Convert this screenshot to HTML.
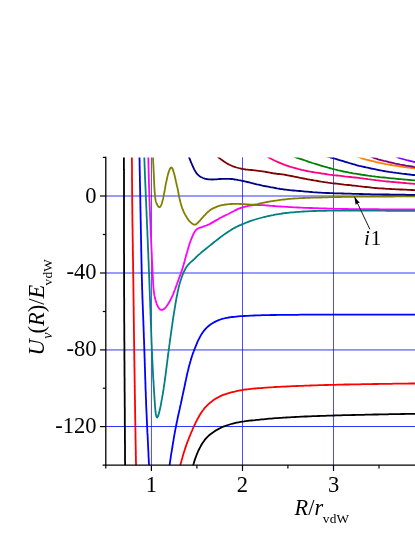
<!DOCTYPE html>
<html><head><meta charset="utf-8">
<style>
html,body{margin:0;padding:0;background:#fff;}
body{width:415px;height:537px;overflow:hidden;}
svg{display:block;will-change:transform;}
text{font-family:"Liberation Serif",serif;fill:#000;}
.c{fill:none;stroke-width:1.8;stroke-linejoin:round;stroke-linecap:butt;}
</style></head><body>
<svg width="415" height="537" viewBox="0 0 415 537">
<rect width="415" height="537" fill="#fff"/>
<defs><clipPath id="cp"><rect x="105.8" y="157.4" width="310" height="307.8"/></clipPath></defs>
<!-- grid -->
<g stroke="#0000ff" stroke-width="0.7" fill="none">
<line x1="151.45" y1="157.4" x2="151.45" y2="465"/>
<line x1="242.5" y1="157.4" x2="242.5" y2="465"/>
<line x1="333.5" y1="157.4" x2="333.5" y2="465"/>
</g>
<g stroke="#0000ff" stroke-width="0.8" fill="none">
<line x1="106" y1="196" x2="415" y2="196"/>
<line x1="106" y1="273" x2="415" y2="273"/>
<line x1="106" y1="349.95" x2="415" y2="349.95"/>
<line x1="106" y1="426.5" x2="415" y2="426.5"/>
</g>
<!-- curves -->
<g clip-path="url(#cp)" id="curves">
<path class="c" stroke="#000" d="M123.8 150.0 L123.8 151.2 L123.9 152.6 L123.9 154.5 L123.9 157.0 L123.9 157.8 L123.9 158.7 L123.9 159.7 L123.9 160.7 L123.9 161.8 L123.9 162.9 L123.9 164.1 L123.9 165.3 L123.9 166.6 L123.9 168.0 L123.9 169.4 L124.0 170.8 L124.0 172.3 L124.0 173.9 L124.0 175.5 L124.0 177.1 L124.0 178.8 L124.0 180.6 L124.0 182.3 L124.0 184.2 L124.0 186.0 L124.0 187.9 L124.0 189.8 L124.0 191.8 L124.0 193.8 L124.0 195.8 L124.0 197.9 L124.0 200.0 L124.0 202.1 L124.0 204.3 L124.0 206.4 L124.0 208.6 L124.0 210.9 L124.0 213.1 L124.0 215.4 L124.0 217.7 L124.0 220.0 L124.0 222.3 L124.0 224.7 L124.0 227.0 L124.0 229.4 L124.0 231.8 L124.0 234.2 L124.0 236.6 L124.0 239.0 L124.0 241.4 L124.0 243.8 L124.0 246.2 L124.0 248.7 L124.0 251.1 L124.0 253.5 L124.1 256.0 L124.1 258.4 L124.1 260.8 L124.1 263.3 L124.1 265.7 L124.1 268.1 L124.1 270.5 L124.1 272.9 L124.1 275.3 L124.1 277.6 L124.1 280.0 L124.1 282.4 L124.1 284.7 L124.1 287.0 L124.1 289.3 L124.1 291.6 L124.1 293.9 L124.1 296.2 L124.2 298.4 L124.2 300.6 L124.2 302.9 L124.2 305.1 L124.2 307.3 L124.2 309.4 L124.2 311.6 L124.2 313.8 L124.2 315.9 L124.2 318.0 L124.2 320.1 L124.2 322.2 L124.3 324.3 L124.3 326.4 L124.3 328.5 L124.3 330.5 L124.3 332.6 L124.3 334.6 L124.3 336.6 L124.3 338.6 L124.3 340.6 L124.4 342.6 L124.4 344.5 L124.4 346.5 L124.4 348.4 L124.4 350.3 L124.4 352.3 L124.4 354.2 L124.4 356.1 L124.4 357.9 L124.4 359.8 L124.5 361.7 L124.5 363.5 L124.5 365.4 L124.5 367.2 L124.5 369.0 L124.5 370.8 L124.5 372.6 L124.5 374.4 L124.5 376.2 L124.6 377.9 L124.6 379.7 L124.6 381.4 L124.6 383.2 L124.6 384.9 L124.6 386.6 L124.6 388.3 L124.6 390.0 L124.6 391.7 L124.7 393.4 L124.7 395.0 L124.7 396.7 L124.7 398.4 L124.7 400.0 L124.7 402.1 L124.7 404.2 L124.7 406.3 L124.8 408.4 L124.8 410.4 L124.8 412.5 L124.8 414.5 L124.8 416.5 L124.8 418.5 L124.8 420.5 L124.8 422.5 L124.8 424.5 L124.9 426.5 L124.9 428.4 L124.9 430.4 L124.9 432.3 L124.9 434.3 L124.9 436.2 L124.9 438.1 L124.9 440.0 L124.9 441.9 L125.0 443.8 L125.0 445.7 L125.0 447.6 L125.0 449.5 L125.0 451.4 L125.0 453.2 L125.0 455.1 L125.0 457.0 L125.0 458.8 L125.0 460.7 L125.1 462.6 L125.1 464.4 L125.1 466.3 L125.1 468.1 L125.1 470.0"/>
<path class="c" stroke="#000" d="M192.2 470.0 L192.5 468.4 L192.9 466.7 L193.3 464.8 L193.8 463.2 L194.3 461.4 L194.9 459.6 L195.5 457.8 L196.2 456.0 L196.9 454.2 L197.6 452.5 L198.4 450.7 L199.2 449.0 L200.1 447.3 L200.9 445.8 L201.8 444.3 L202.7 442.8 L203.7 441.4 L204.7 439.9 L205.8 438.6 L207.0 437.3 L208.2 436.1 L209.5 435.0 L210.8 433.9 L212.2 432.9 L213.6 431.9 L215.1 430.9 L216.7 430.0 L218.3 429.1 L219.9 428.2 L221.5 427.4 L223.2 426.7 L224.8 426.1 L226.4 425.5 L228.0 425.0 L229.6 424.5 L231.2 424.0 L232.8 423.6 L234.7 423.1 L236.6 422.7 L238.6 422.3 L240.5 421.9 L242.5 421.6 L244.1 421.4 L245.8 421.1 L247.5 420.9 L249.3 420.7 L251.1 420.5 L253.0 420.3 L255.0 420.1 L256.6 419.9 L258.2 419.8 L259.9 419.6 L261.6 419.4 L263.4 419.3 L265.3 419.1 L267.2 418.9 L269.1 418.7 L271.2 418.6 L273.3 418.4 L275.4 418.2 L277.6 418.1 L279.9 417.9 L281.5 417.8 L283.1 417.7 L284.8 417.6 L286.4 417.5 L288.1 417.4 L289.9 417.3 L291.6 417.2 L293.4 417.1 L295.2 417.0 L297.1 416.9 L298.9 416.8 L300.8 416.7 L302.7 416.6 L304.7 416.5 L306.6 416.5 L308.6 416.4 L310.6 416.3 L312.6 416.2 L314.7 416.1 L316.7 416.1 L318.8 416.0 L320.9 415.9 L323.1 415.8 L325.2 415.8 L327.4 415.7 L329.6 415.6 L331.8 415.6 L334.0 415.5 L335.8 415.4 L337.6 415.4 L339.4 415.3 L341.2 415.3 L343.1 415.2 L344.9 415.2 L346.8 415.2 L348.7 415.1 L350.5 415.1 L352.4 415.0 L354.3 415.0 L356.2 414.9 L358.1 414.9 L360.0 414.8 L362.0 414.8 L363.9 414.8 L365.8 414.7 L367.8 414.7 L369.7 414.6 L371.7 414.6 L373.7 414.5 L375.6 414.5 L377.6 414.5 L379.6 414.4 L381.6 414.4 L383.6 414.4 L385.6 414.3 L387.6 414.3 L389.6 414.2 L391.6 414.2 L393.6 414.2 L395.6 414.1 L397.7 414.1 L399.7 414.1 L401.7 414.0 L403.7 414.0 L405.8 413.9 L407.8 413.9 L409.8 413.9 L411.9 413.8 L413.9 413.8 L415.9 413.8 L418.0 413.7 L420.0 413.7"/>
<path class="c" stroke="#f00" d="M131.8 150.0 L131.8 151.4 L131.9 153.0 L131.9 154.8 L131.9 157.0 L131.9 158.1 L131.9 159.4 L131.9 160.7 L131.9 162.2 L131.9 163.7 L132.0 165.3 L132.0 167.0 L132.0 168.8 L132.0 170.6 L132.0 172.5 L132.0 174.5 L132.0 176.6 L132.0 178.7 L132.0 180.9 L132.1 183.1 L132.1 185.4 L132.1 187.7 L132.1 190.1 L132.1 192.5 L132.2 195.0 L132.2 197.5 L132.2 200.0 L132.2 201.9 L132.2 203.7 L132.3 205.6 L132.3 207.5 L132.3 209.5 L132.3 211.4 L132.3 213.3 L132.4 215.3 L132.4 217.2 L132.4 219.2 L132.4 221.2 L132.5 223.2 L132.5 225.2 L132.5 227.1 L132.6 229.1 L132.6 231.1 L132.6 233.1 L132.6 235.1 L132.7 237.1 L132.7 239.2 L132.7 241.2 L132.8 243.2 L132.8 245.2 L132.8 247.2 L132.8 249.2 L132.9 251.2 L132.9 253.1 L132.9 255.1 L133.0 257.1 L133.0 259.1 L133.0 261.0 L133.1 263.0 L133.1 264.9 L133.1 266.8 L133.1 268.8 L133.2 270.7 L133.2 272.6 L133.2 274.4 L133.2 276.3 L133.3 278.2 L133.3 280.0 L133.3 281.9 L133.4 283.7 L133.4 285.6 L133.4 287.4 L133.4 289.2 L133.4 291.1 L133.5 292.9 L133.5 294.7 L133.5 296.5 L133.5 298.3 L133.6 300.1 L133.6 301.8 L133.6 303.6 L133.6 305.5 L133.7 307.3 L133.7 309.1 L133.7 310.9 L133.7 312.7 L133.7 314.6 L133.8 316.5 L133.8 318.3 L133.8 320.2 L133.8 322.2 L133.9 324.1 L133.9 326.1 L133.9 328.1 L133.9 330.1 L134.0 332.1 L134.0 334.2 L134.0 336.3 L134.0 338.5 L134.1 340.6 L134.1 342.8 L134.1 345.1 L134.2 347.4 L134.2 349.7 L134.2 352.1 L134.3 354.5 L134.3 357.0 L134.3 359.1 L134.4 361.3 L134.4 363.4 L134.4 365.6 L134.5 367.9 L134.5 370.1 L134.5 372.4 L134.6 374.7 L134.6 377.0 L134.6 379.3 L134.7 381.7 L134.7 384.0 L134.7 386.4 L134.8 388.7 L134.8 391.1 L134.8 393.5 L134.9 395.9 L134.9 398.2 L135.0 400.6 L135.0 403.0 L135.0 405.3 L135.1 407.6 L135.1 410.0 L135.1 412.3 L135.2 414.6 L135.2 416.9 L135.2 419.1 L135.3 421.4 L135.3 423.6 L135.3 425.7 L135.4 427.9 L135.4 430.0 L135.5 432.1 L135.5 434.1 L135.5 436.2 L135.5 438.1 L135.6 440.1 L135.6 441.9 L135.6 443.8 L135.7 445.6 L135.7 447.3 L135.7 449.0 L135.8 450.6 L135.8 452.2 L135.8 453.7 L135.8 455.1 L135.9 456.5 L135.9 457.8 L135.9 459.1 L135.9 460.2 L135.9 461.4 L136.0 462.4 L136.0 463.3 L136.0 464.2 L136.0 465.0 L136.0 467.4 L136.1 468.9 L136.1 470.0"/>
<path class="c" stroke="#f00" d="M179.0 470.0 L179.4 468.5 L179.9 466.8 L180.4 464.8 L180.8 463.3 L181.3 461.7 L181.7 459.9 L182.3 458.0 L182.8 456.1 L183.4 454.1 L184.0 452.1 L184.6 450.2 L185.2 448.4 L185.8 446.6 L186.4 444.8 L187.0 443.1 L187.6 441.5 L188.3 439.9 L188.9 438.3 L189.5 436.7 L190.2 435.1 L190.8 433.5 L191.5 431.9 L192.2 430.3 L192.8 428.7 L193.6 427.1 L194.3 425.5 L195.1 423.9 L195.9 422.2 L196.7 420.6 L197.5 419.0 L198.4 417.5 L199.2 416.0 L200.1 414.5 L201.2 412.8 L202.2 411.2 L203.4 409.7 L204.5 408.2 L205.8 406.8 L207.0 405.6 L208.2 404.4 L209.4 403.3 L210.8 402.2 L212.2 401.1 L213.6 400.1 L215.1 399.1 L216.7 398.1 L218.3 397.2 L219.9 396.4 L221.5 395.6 L223.2 394.9 L224.8 394.3 L226.4 393.8 L228.0 393.3 L229.6 392.8 L231.2 392.4 L232.8 392.0 L234.7 391.6 L236.6 391.1 L238.6 390.7 L240.5 390.3 L242.5 390.0 L244.1 389.7 L245.8 389.5 L247.5 389.3 L249.3 389.1 L251.1 388.9 L253.0 388.7 L255.0 388.5 L256.6 388.4 L258.2 388.2 L259.9 388.1 L261.6 388.0 L263.4 387.8 L265.3 387.7 L267.2 387.6 L269.1 387.4 L271.2 387.3 L273.3 387.2 L275.4 387.0 L277.6 386.9 L279.9 386.8 L281.5 386.7 L283.1 386.6 L284.8 386.6 L286.4 386.5 L288.1 386.4 L289.9 386.3 L291.6 386.2 L293.4 386.2 L295.2 386.1 L297.1 386.0 L298.9 385.9 L300.8 385.8 L302.7 385.8 L304.7 385.7 L306.6 385.6 L308.6 385.6 L310.6 385.5 L312.6 385.4 L314.7 385.4 L316.7 385.3 L318.8 385.2 L320.9 385.2 L323.1 385.1 L325.2 385.0 L327.4 385.0 L329.6 384.9 L331.8 384.9 L334.0 384.8 L335.8 384.8 L337.6 384.7 L339.4 384.7 L341.2 384.6 L343.1 384.6 L344.9 384.5 L346.8 384.5 L348.7 384.5 L350.5 384.4 L352.4 384.4 L354.3 384.4 L356.2 384.3 L358.1 384.3 L360.0 384.3 L362.0 384.2 L363.9 384.2 L365.8 384.2 L367.8 384.1 L369.7 384.1 L371.7 384.1 L373.7 384.0 L375.6 384.0 L377.6 384.0 L379.6 383.9 L381.6 383.9 L383.6 383.9 L385.6 383.8 L387.6 383.8 L389.6 383.8 L391.6 383.8 L393.6 383.7 L395.6 383.7 L397.7 383.7 L399.7 383.7 L401.7 383.6 L403.7 383.6 L405.8 383.6 L407.8 383.6 L409.8 383.5 L411.9 383.5 L413.9 383.5 L415.9 383.5 L418.0 383.4 L420.0 383.4"/>
<path class="c" stroke="#00f" d="M139.4 150.0 L139.4 151.5 L139.4 153.0 L139.5 154.8 L139.5 157.0 L139.5 158.1 L139.5 159.3 L139.6 160.7 L139.6 162.0 L139.6 163.5 L139.6 165.1 L139.7 166.8 L139.7 168.5 L139.7 170.3 L139.8 172.2 L139.8 174.2 L139.9 176.2 L139.9 178.3 L139.9 180.5 L140.0 182.7 L140.0 185.0 L140.1 187.4 L140.1 189.8 L140.2 192.3 L140.2 194.8 L140.3 197.4 L140.3 200.0 L140.3 202.0 L140.4 203.9 L140.4 205.9 L140.4 207.9 L140.5 210.0 L140.5 212.0 L140.6 214.1 L140.6 216.2 L140.6 218.2 L140.7 220.3 L140.7 222.4 L140.8 224.5 L140.8 226.7 L140.8 228.8 L140.9 230.9 L140.9 233.0 L141.0 235.1 L141.0 237.2 L141.0 239.3 L141.1 241.4 L141.1 243.5 L141.2 245.5 L141.2 247.6 L141.2 249.6 L141.3 251.6 L141.3 253.6 L141.4 255.6 L141.4 257.5 L141.4 259.5 L141.5 261.4 L141.5 263.2 L141.6 265.1 L141.6 266.9 L141.6 268.7 L141.7 270.4 L141.7 272.1 L141.7 273.8 L141.8 275.4 L141.8 277.0 L141.9 278.5 L141.9 280.0 L142.0 282.2 L142.0 284.4 L142.1 286.4 L142.1 288.4 L142.2 290.3 L142.3 292.1 L142.3 293.9 L142.4 295.7 L142.4 297.4 L142.5 299.2 L142.6 300.9 L142.6 302.6 L142.7 304.4 L142.8 306.2 L142.8 308.1 L142.9 310.0 L143.0 311.6 L143.0 313.3 L143.1 315.0 L143.2 316.7 L143.2 318.5 L143.3 320.3 L143.4 322.2 L143.4 324.0 L143.5 325.9 L143.6 327.9 L143.6 329.8 L143.7 331.8 L143.8 333.8 L143.8 335.8 L143.9 337.8 L144.0 339.8 L144.1 341.9 L144.1 343.9 L144.2 345.9 L144.3 348.0 L144.3 350.0 L144.4 352.0 L144.5 354.0 L144.5 356.0 L144.6 358.0 L144.7 359.9 L144.7 361.8 L144.8 363.6 L144.8 365.5 L144.9 367.3 L145.0 369.2 L145.0 371.0 L145.1 372.8 L145.1 374.7 L145.2 376.5 L145.2 378.3 L145.3 380.2 L145.4 382.0 L145.4 383.9 L145.5 385.8 L145.5 387.6 L145.6 389.5 L145.7 391.5 L145.8 393.4 L145.8 395.4 L145.9 397.4 L146.0 399.4 L146.1 401.5 L146.1 403.5 L146.2 405.7 L146.3 407.8 L146.4 410.0 L146.5 412.2 L146.6 414.5 L146.7 416.7 L146.8 419.0 L146.9 421.3 L147.0 423.7 L147.1 426.0 L147.2 428.3 L147.3 430.6 L147.4 432.9 L147.6 435.2 L147.7 437.4 L147.8 439.7 L147.9 441.8 L148.0 444.0 L148.1 446.1 L148.2 448.1 L148.3 450.1 L148.4 452.0 L148.5 453.8 L148.5 455.5 L148.6 457.2 L148.7 458.8 L148.8 460.2 L148.8 461.6 L148.9 462.8 L149.0 464.0 L149.0 465.0 L149.1 467.2 L149.2 468.8 L149.2 470.0"/>
<path class="c" stroke="#00f" d="M168.9 470.0 L169.1 468.7 L169.3 467.1 L169.6 465.0 L169.8 463.8 L170.0 462.4 L170.2 460.8 L170.5 459.1 L170.7 457.3 L171.0 455.4 L171.3 453.4 L171.7 451.3 L172.0 449.2 L172.4 447.0 L172.7 444.8 L173.1 442.5 L173.5 440.3 L173.8 438.0 L174.2 435.8 L174.6 433.6 L175.0 431.5 L175.4 429.4 L175.8 427.3 L176.2 425.3 L176.6 423.3 L177.0 421.4 L177.4 419.6 L177.7 417.8 L178.1 416.0 L178.5 414.2 L178.9 412.5 L179.3 410.7 L179.7 409.0 L180.0 407.3 L180.4 405.6 L180.8 403.9 L181.2 402.0 L181.6 400.2 L182.0 398.3 L182.4 396.4 L182.8 394.6 L183.2 392.7 L183.6 390.8 L184.0 389.0 L184.4 387.1 L184.8 385.3 L185.1 383.5 L185.5 381.7 L185.9 380.0 L186.3 378.1 L186.7 376.2 L187.1 374.3 L187.5 372.5 L188.0 370.8 L188.4 369.0 L188.8 367.3 L189.2 365.6 L189.7 364.0 L190.1 362.4 L190.7 360.5 L191.2 358.6 L191.8 356.8 L192.4 355.0 L193.0 353.2 L193.7 351.5 L194.3 349.8 L195.0 348.0 L195.7 346.3 L196.4 344.6 L197.1 342.9 L197.8 341.2 L198.6 339.6 L199.5 337.8 L200.4 336.1 L201.4 334.4 L202.5 332.7 L203.6 331.2 L204.7 329.9 L205.8 328.6 L207.0 327.4 L208.3 326.3 L209.5 325.3 L210.9 324.2 L212.4 323.3 L213.9 322.4 L215.4 321.6 L217.0 320.8 L218.7 320.1 L220.4 319.5 L222.2 318.9 L223.8 318.5 L225.4 318.1 L227.1 317.8 L228.8 317.5 L230.6 317.2 L232.4 317.0 L234.2 316.8 L236.2 316.6 L238.1 316.4 L240.2 316.2 L242.4 316.1 L244.2 316.0 L246.1 315.9 L248.1 315.8 L250.1 315.7 L252.1 315.6 L254.1 315.5 L256.1 315.4 L258.1 315.4 L260.0 315.3 L261.8 315.2 L263.6 315.2 L265.4 315.1 L267.3 315.1 L269.2 315.1 L271.1 315.0 L273.1 315.0 L275.2 315.0 L277.5 314.9 L279.9 314.9 L281.3 314.9 L282.8 314.9 L284.3 314.9 L285.9 314.8 L287.5 314.8 L289.1 314.8 L290.8 314.8 L292.6 314.8 L294.3 314.8 L296.1 314.8 L298.0 314.8 L299.9 314.7 L301.8 314.7 L303.7 314.7 L305.7 314.7 L307.7 314.7 L309.8 314.7 L311.8 314.7 L313.9 314.7 L316.0 314.7 L318.1 314.7 L320.2 314.7 L322.4 314.6 L324.6 314.6 L326.7 314.6 L328.9 314.6 L331.1 314.6 L333.3 314.6 L335.6 314.6 L337.8 314.6 L340.0 314.6 L341.9 314.6 L343.9 314.6 L345.8 314.6 L347.8 314.6 L349.7 314.6 L351.6 314.6 L353.6 314.6 L355.5 314.6 L357.5 314.6 L359.4 314.6 L361.4 314.6 L363.3 314.6 L365.3 314.6 L367.2 314.6 L369.2 314.6 L371.1 314.6 L373.1 314.6 L375.0 314.6 L377.0 314.6 L378.9 314.6 L380.9 314.6 L382.8 314.6 L384.8 314.6 L386.7 314.6 L388.7 314.6 L390.7 314.6 L392.6 314.6 L394.6 314.6 L396.5 314.6 L398.5 314.6 L400.4 314.6 L402.4 314.6 L404.3 314.6 L406.3 314.6 L408.3 314.6 L410.2 314.6 L412.2 314.6 L414.1 314.6 L416.1 314.6 L418.0 314.6 L420.0 314.6"/>
<path class="c" stroke="#008080" d="M144.1 150.0 L144.1 151.4 L144.2 153.0 L144.2 154.8 L144.3 157.0 L144.3 158.2 L144.4 159.4 L144.4 160.8 L144.5 162.2 L144.5 163.8 L144.6 165.4 L144.7 167.1 L144.7 168.9 L144.8 170.8 L144.9 172.7 L145.0 174.7 L145.0 176.8 L145.1 178.9 L145.2 181.1 L145.3 183.3 L145.4 185.6 L145.5 187.9 L145.6 190.3 L145.7 192.7 L145.8 195.1 L145.9 197.5 L146.0 200.0 L146.1 201.8 L146.2 203.6 L146.2 205.5 L146.3 207.3 L146.4 209.2 L146.5 211.0 L146.5 212.9 L146.6 214.8 L146.7 216.6 L146.8 218.5 L146.9 220.4 L146.9 222.3 L147.0 224.2 L147.1 226.2 L147.2 228.1 L147.3 230.0 L147.4 231.9 L147.4 233.9 L147.5 235.8 L147.6 237.8 L147.7 239.8 L147.8 241.7 L147.8 243.7 L147.9 245.7 L148.0 247.7 L148.1 249.7 L148.2 251.6 L148.3 253.6 L148.3 255.7 L148.4 257.7 L148.5 259.7 L148.6 261.7 L148.7 263.7 L148.7 265.7 L148.8 267.8 L148.9 269.8 L149.0 271.8 L149.1 273.9 L149.1 275.9 L149.2 278.0 L149.3 280.0 L149.4 282.1 L149.5 284.2 L149.5 286.3 L149.6 288.5 L149.7 290.6 L149.8 292.7 L149.8 294.8 L149.9 296.9 L150.0 299.0 L150.1 301.1 L150.2 303.2 L150.2 305.3 L150.3 307.4 L150.4 309.5 L150.5 311.6 L150.5 313.6 L150.6 315.7 L150.7 317.7 L150.7 319.8 L150.8 321.8 L150.9 323.8 L151.0 325.8 L151.0 327.8 L151.1 329.7 L151.2 331.7 L151.3 333.6 L151.3 335.5 L151.4 337.4 L151.5 339.3 L151.5 341.2 L151.6 343.0 L151.7 344.9 L151.8 346.7 L151.8 348.5 L151.9 350.2 L152.0 351.9 L152.1 353.7 L152.1 355.3 L152.2 357.0 L152.3 359.2 L152.4 361.4 L152.5 363.5 L152.6 365.6 L152.7 367.7 L152.8 369.7 L152.9 371.7 L153.0 373.7 L153.1 375.6 L153.2 377.5 L153.3 379.4 L153.5 381.3 L153.6 383.2 L153.7 385.1 L153.8 387.0 L153.9 388.9 L154.0 390.8 L154.1 392.6 L154.3 394.5 L154.4 396.5 L154.5 398.4 L154.7 401.2 L154.9 404.0 L155.1 406.7 L155.3 409.2 L155.5 411.5 L155.8 413.5 L156.1 415.2 L156.4 416.5 L156.7 417.3 L157.1 417.5 L157.5 417.1 L158.0 416.2 L158.5 414.9 L159.0 413.1 L159.5 411.0 L160.0 408.7 L160.6 406.2 L161.1 403.6 L161.5 400.9 L162.0 398.4 L162.4 396.1 L162.8 393.9 L163.1 391.7 L163.5 389.7 L163.8 387.7 L164.0 385.8 L164.3 384.0 L164.6 382.2 L164.8 380.3 L165.1 378.5 L165.3 376.7 L165.6 374.8 L165.8 372.8 L166.1 370.8 L166.3 368.8 L166.6 366.8 L166.8 364.9 L167.1 362.9 L167.3 360.9 L167.6 358.9 L167.8 357.0 L168.1 355.0 L168.3 353.1 L168.6 351.2 L168.8 349.3 L169.1 347.4 L169.3 345.6 L169.6 343.7 L169.8 341.8 L170.1 340.0 L170.3 338.2 L170.6 336.4 L170.8 334.6 L171.1 332.8 L171.3 331.0 L171.6 329.3 L171.8 327.5 L172.1 325.7 L172.3 324.0 L172.6 322.1 L172.8 320.3 L173.1 318.4 L173.4 316.6 L173.7 314.7 L174.0 312.9 L174.3 311.0 L174.6 309.1 L174.9 307.3 L175.2 305.5 L175.5 303.6 L175.8 301.8 L176.1 300.0 L176.5 298.1 L176.8 296.3 L177.2 294.5 L177.5 292.8 L177.9 290.9 L178.3 289.1 L178.7 287.3 L179.1 285.6 L179.6 283.9 L180.0 282.3 L180.5 280.8 L181.1 279.1 L181.6 277.4 L182.2 275.8 L182.9 274.2 L183.5 272.7 L184.3 271.0 L185.1 269.3 L186.1 267.6 L187.2 266.0 L188.3 264.7 L189.5 263.4 L190.8 262.2 L192.0 261.1 L193.2 260.0 L194.5 258.8 L195.8 257.5 L197.2 256.2 L198.9 254.6 L200.1 253.6 L201.4 252.4 L202.8 251.2 L204.4 250.0 L206.0 248.7 L207.6 247.4 L209.2 246.1 L210.9 244.8 L212.5 243.5 L214.0 242.3 L215.5 241.1 L216.9 240.0 L218.6 238.7 L220.1 237.5 L221.5 236.4 L222.9 235.4 L224.2 234.4 L225.6 233.4 L227.1 232.4 L228.6 231.4 L230.2 230.4 L231.8 229.4 L233.4 228.5 L235.0 227.6 L236.6 226.8 L238.0 226.1 L239.5 225.4 L241.0 224.8 L242.4 224.2 L243.9 223.6 L245.3 223.0 L246.9 222.4 L248.4 221.8 L250.0 221.2 L251.7 220.6 L253.5 220.0 L255.2 219.5 L256.9 219.0 L258.6 218.5 L260.5 218.0 L262.3 217.5 L264.1 217.0 L266.0 216.6 L267.7 216.2 L269.6 215.8 L271.4 215.4 L273.2 215.1 L275.0 214.7 L276.8 214.4 L278.5 214.1 L280.3 213.8 L282.2 213.5 L284.3 213.2 L285.9 213.0 L287.7 212.8 L289.5 212.6 L291.4 212.4 L293.4 212.3 L295.4 212.1 L297.4 211.9 L299.5 211.8 L301.5 211.6 L303.6 211.5 L305.6 211.4 L307.6 211.3 L309.6 211.2 L311.5 211.1 L313.5 211.0 L315.4 211.0 L317.3 210.9 L319.1 210.9 L321.0 210.8 L322.8 210.8 L324.4 210.8 L326.0 210.8 L327.7 210.7 L329.3 210.7 L331.0 210.7 L332.8 210.7 L334.6 210.7 L336.5 210.7 L338.4 210.7 L340.5 210.7 L342.7 210.7 L345.0 210.7 L346.4 210.7 L347.9 210.7 L349.3 210.7 L350.9 210.7 L352.5 210.7 L354.1 210.7 L355.7 210.7 L357.4 210.7 L359.2 210.7 L360.9 210.7 L362.7 210.7 L364.6 210.7 L366.5 210.7 L368.4 210.7 L370.3 210.7 L372.2 210.7 L374.2 210.7 L376.2 210.7 L378.3 210.7 L380.3 210.7 L382.4 210.7 L384.5 210.7 L386.6 210.8 L388.8 210.8 L390.9 210.8 L393.1 210.8 L395.3 210.8 L397.5 210.8 L399.7 210.8 L401.9 210.8 L404.2 210.8 L406.4 210.8 L408.7 210.8 L410.9 210.8 L413.2 210.8 L415.5 210.8 L417.7 210.8 L420.0 210.8"/>
<path class="c" stroke="#f0f" d="M148.1 150.0 L148.1 151.5 L148.2 153.0 L148.2 154.8 L148.3 157.0 L148.3 158.1 L148.4 159.3 L148.4 160.6 L148.4 162.0 L148.5 163.5 L148.5 165.0 L148.5 166.7 L148.6 168.4 L148.6 170.2 L148.7 172.1 L148.7 174.0 L148.8 176.0 L148.8 178.1 L148.9 180.3 L148.9 182.6 L149.0 184.9 L149.1 187.2 L149.2 189.7 L149.2 192.2 L149.3 194.7 L149.4 197.3 L149.5 200.0 L149.6 202.0 L149.6 204.0 L149.7 206.0 L149.8 208.1 L149.9 210.2 L150.0 212.3 L150.0 214.4 L150.1 216.5 L150.2 218.7 L150.3 220.8 L150.4 223.0 L150.5 225.1 L150.6 227.3 L150.6 229.5 L150.7 231.6 L150.8 233.8 L150.9 236.0 L151.0 238.1 L151.1 240.2 L151.2 242.4 L151.3 244.5 L151.4 246.5 L151.5 248.6 L151.6 250.7 L151.7 252.7 L151.8 254.7 L151.9 256.7 L151.9 258.6 L152.0 260.5 L152.1 262.4 L152.2 264.2 L152.3 266.0 L152.4 267.7 L152.5 269.5 L152.5 271.1 L152.6 272.7 L152.7 274.3 L152.8 275.8 L152.9 277.3 L152.9 278.7 L153.0 280.0 L153.1 282.5 L153.3 284.8 L153.4 287.0 L153.6 288.9 L153.7 290.8 L154.0 292.5 L154.2 294.2 L154.5 295.9 L154.9 297.6 L155.3 299.3 L155.9 301.3 L156.5 303.3 L157.3 305.2 L158.1 306.9 L159.0 308.3 L160.0 309.4 L161.1 309.9 L162.3 309.9 L163.5 309.3 L164.8 308.4 L166.0 307.0 L167.3 305.3 L168.6 303.3 L169.8 301.2 L170.7 299.4 L171.6 297.6 L172.5 295.7 L173.3 293.8 L174.0 291.9 L174.8 290.0 L175.5 288.2 L176.1 286.4 L176.8 284.6 L177.3 283.0 L177.9 281.4 L178.4 280.0 L179.0 278.3 L179.6 276.7 L180.2 275.1 L180.8 273.6 L181.4 271.9 L182.0 270.0 L182.5 268.4 L183.0 266.7 L183.6 264.8 L184.1 262.9 L184.7 260.9 L185.2 258.8 L185.8 256.8 L186.3 254.8 L186.9 252.9 L187.4 251.1 L187.9 249.4 L188.3 247.8 L188.9 245.9 L189.4 244.2 L189.9 242.7 L190.4 241.4 L190.9 240.0 L191.6 238.3 L192.3 236.7 L193.0 235.0 L193.8 233.4 L194.7 231.8 L195.6 230.4 L196.7 229.3 L198.0 228.5 L199.4 227.8 L201.0 227.3 L202.7 226.8 L204.4 226.2 L206.3 225.5 L208.3 224.7 L210.0 223.9 L211.7 222.9 L213.4 221.9 L215.1 220.9 L216.8 219.9 L218.4 218.9 L220.0 218.0 L221.5 217.3 L222.9 216.6 L224.3 215.9 L225.6 215.3 L227.3 214.5 L228.9 213.7 L230.5 212.8 L232.0 212.0 L233.6 211.2 L235.1 210.4 L236.7 209.6 L238.1 208.9 L239.6 208.3 L241.0 207.8 L242.6 207.3 L244.5 206.8 L246.5 206.3 L248.4 205.9 L250.2 205.6 L251.9 205.3 L253.6 205.2 L255.3 205.1 L256.8 205.0 L258.4 205.0 L260.1 205.1 L261.9 205.2 L263.7 205.2 L265.5 205.4 L267.2 205.5 L268.9 205.6 L270.6 205.8 L272.2 205.9 L273.8 206.0 L275.3 206.1 L277.0 206.3 L278.7 206.4 L280.6 206.5 L282.2 206.6 L283.9 206.7 L285.7 206.8 L287.5 206.9 L289.5 207.1 L291.5 207.2 L293.6 207.3 L295.7 207.4 L297.8 207.5 L300.0 207.6 L302.0 207.7 L303.9 207.8 L305.9 207.8 L307.8 207.9 L309.8 208.0 L311.7 208.0 L313.6 208.1 L315.5 208.2 L317.4 208.2 L319.2 208.3 L321.0 208.3 L322.8 208.4 L324.5 208.5 L326.2 208.5 L327.9 208.6 L329.5 208.6 L331.2 208.7 L333.0 208.7 L334.8 208.8 L336.6 208.8 L338.5 208.9 L340.6 208.9 L342.7 209.0 L345.0 209.0 L346.4 209.0 L347.8 209.0 L349.3 209.1 L350.8 209.1 L352.4 209.1 L354.0 209.1 L355.6 209.1 L357.3 209.1 L359.1 209.2 L360.8 209.2 L362.6 209.2 L364.4 209.2 L366.3 209.2 L368.2 209.2 L370.1 209.2 L372.1 209.2 L374.1 209.2 L376.1 209.2 L378.1 209.2 L380.2 209.3 L382.3 209.3 L384.4 209.3 L386.5 209.3 L388.7 209.3 L390.8 209.3 L393.0 209.3 L395.2 209.3 L397.4 209.3 L399.6 209.3 L401.9 209.3 L404.1 209.3 L406.4 209.3 L408.6 209.3 L410.9 209.3 L413.2 209.3 L415.4 209.3 L417.7 209.3 L420.0 209.3"/>
<path class="c" stroke="#808000" d="M152.6 150.0 L152.7 151.2 L152.8 152.7 L152.9 154.5 L153.0 157.0 L153.1 158.4 L153.1 160.0 L153.2 161.8 L153.3 163.6 L153.4 165.6 L153.5 167.7 L153.6 169.9 L153.7 172.1 L153.8 174.3 L153.9 176.5 L154.0 178.8 L154.1 181.0 L154.2 183.2 L154.3 185.4 L154.4 187.4 L154.5 189.4 L154.6 191.3 L154.8 193.0 L154.9 194.6 L155.0 196.0 L155.3 198.5 L155.6 200.4 L156.0 202.0 L156.6 203.5 L157.4 205.2 L158.3 206.6 L159.3 207.3 L160.2 206.9 L161.0 205.6 L161.8 203.5 L162.2 202.1 L162.6 200.6 L163.0 199.0 L163.4 197.2 L163.7 195.4 L164.1 193.5 L164.5 191.5 L164.9 189.4 L165.2 187.3 L165.6 185.2 L166.0 183.1 L166.5 181.1 L166.9 179.0 L167.5 176.4 L168.1 173.9 L168.8 171.8 L169.4 169.9 L170.1 168.5 L170.7 167.7 L171.4 167.5 L172.0 168.0 L172.7 169.1 L173.2 170.6 L173.8 172.5 L174.4 174.6 L174.9 176.8 L175.4 179.0 L175.9 181.3 L176.4 183.3 L176.8 185.2 L177.2 186.9 L177.6 188.5 L177.9 190.0 L178.2 191.5 L178.4 193.0 L178.7 194.5 L179.0 196.1 L179.3 197.6 L179.7 199.2 L180.1 200.8 L180.5 202.5 L181.0 204.2 L181.5 205.9 L182.1 207.8 L182.8 209.6 L183.5 211.3 L184.3 213.0 L185.1 214.6 L186.1 216.3 L187.1 218.0 L188.2 219.6 L189.5 221.1 L190.7 222.4 L192.0 223.5 L193.3 224.3 L194.5 224.7 L195.7 224.5 L196.9 223.7 L198.1 222.5 L199.2 221.3 L200.3 220.1 L201.4 218.8 L202.7 217.4 L203.9 216.0 L205.3 214.6 L206.6 213.1 L208.1 211.8 L209.6 210.6 L211.1 209.5 L212.5 208.6 L214.0 207.9 L215.5 207.3 L216.9 206.7 L218.4 206.2 L220.1 205.7 L221.9 205.2 L223.7 204.8 L225.6 204.5 L227.4 204.3 L229.3 204.1 L231.2 204.0 L233.2 203.9 L235.0 203.9 L237.0 203.9 L238.8 203.9 L240.7 204.0 L242.6 204.1 L244.6 204.2 L246.5 204.4 L248.4 204.5 L250.2 204.6 L251.9 204.7 L253.6 204.7 L255.3 204.5 L256.8 204.3 L258.5 203.9 L260.2 203.5 L261.9 203.1 L263.7 202.7 L265.4 202.3 L267.1 202.0 L268.8 201.7 L270.5 201.4 L272.2 201.1 L273.9 200.8 L275.6 200.6 L277.3 200.4 L278.9 200.1 L280.6 199.9 L282.2 199.7 L283.8 199.5 L285.5 199.3 L287.2 199.1 L289.0 198.9 L290.6 198.8 L292.2 198.6 L294.0 198.5 L295.8 198.4 L297.7 198.3 L299.6 198.2 L301.6 198.1 L303.6 198.0 L305.5 197.9 L307.4 197.9 L309.3 197.8 L311.3 197.7 L313.2 197.7 L315.2 197.6 L317.1 197.6 L319.0 197.5 L320.9 197.5 L322.8 197.4 L324.5 197.4 L326.1 197.3 L327.8 197.3 L329.4 197.2 L331.1 197.2 L332.9 197.1 L334.7 197.1 L336.5 197.1 L338.5 197.0 L340.5 197.0 L342.7 196.9 L345.0 196.9 L346.4 196.9 L347.8 196.9 L349.3 196.8 L350.9 196.8 L352.4 196.8 L354.0 196.8 L355.7 196.8 L357.4 196.7 L359.1 196.7 L360.9 196.7 L362.7 196.7 L364.5 196.7 L366.4 196.7 L368.3 196.6 L370.2 196.6 L372.2 196.6 L374.2 196.6 L376.2 196.6 L378.2 196.6 L380.3 196.5 L382.4 196.5 L384.5 196.5 L386.6 196.5 L388.7 196.5 L390.9 196.5 L393.1 196.5 L395.3 196.4 L397.5 196.4 L399.7 196.4 L401.9 196.4 L404.1 196.4 L406.4 196.4 L408.7 196.4 L410.9 196.4 L413.2 196.3 L415.5 196.3 L417.7 196.3 L420.0 196.3"/>
<path class="c" stroke="#000080" d="M186.0 150.0 L186.7 151.5 L187.3 153.2 L188.1 155.0 L188.9 157.0 L189.6 158.6 L190.3 160.4 L191.0 162.2 L191.8 164.0 L192.6 165.8 L193.4 167.6 L194.2 169.3 L195.0 170.8 L196.1 172.6 L197.3 174.2 L198.6 175.4 L200.0 176.5 L201.4 177.3 L203.0 178.0 L204.7 178.6 L206.6 179.0 L208.5 179.3 L210.4 179.4 L212.3 179.5 L214.3 179.4 L216.2 179.3 L218.1 179.1 L220.0 179.0 L222.0 178.9 L223.9 178.8 L225.8 178.8 L227.7 178.8 L229.7 178.9 L231.4 179.0 L233.1 179.2 L234.8 179.5 L236.6 179.7 L238.4 180.1 L240.3 180.4 L242.2 180.8 L243.9 181.2 L245.7 181.6 L247.4 182.0 L249.2 182.4 L251.1 182.9 L252.9 183.3 L254.8 183.8 L256.7 184.3 L258.6 184.7 L260.5 185.1 L262.5 185.6 L264.4 186.0 L266.4 186.3 L268.2 186.7 L270.1 187.1 L271.8 187.4 L273.5 187.7 L275.0 188.0 L276.9 188.4 L278.7 188.7 L280.4 189.0 L282.3 189.2 L284.3 189.5 L285.9 189.7 L287.7 189.9 L289.5 190.1 L291.4 190.3 L293.4 190.5 L295.5 190.7 L297.5 190.9 L299.6 191.0 L301.6 191.2 L303.6 191.4 L305.5 191.6 L307.4 191.7 L309.2 191.9 L311.0 192.0 L312.8 192.2 L314.7 192.3 L316.6 192.4 L318.6 192.6 L320.6 192.7 L322.8 192.8 L324.6 192.9 L326.5 193.0 L328.4 193.0 L330.4 193.1 L332.5 193.2 L334.5 193.3 L336.6 193.3 L338.7 193.4 L340.8 193.4 L342.8 193.5 L344.9 193.6 L346.9 193.6 L348.8 193.7 L350.7 193.7 L352.5 193.8 L354.3 193.8 L356.4 193.9 L358.3 193.9 L360.2 194.0 L362.1 194.0 L363.9 194.1 L365.7 194.1 L367.5 194.2 L369.5 194.2 L371.5 194.3 L373.6 194.3 L375.1 194.3 L376.6 194.4 L378.1 194.4 L379.8 194.4 L381.5 194.4 L383.2 194.5 L385.0 194.5 L386.8 194.5 L388.7 194.5 L390.6 194.6 L392.5 194.6 L394.5 194.6 L396.5 194.6 L398.6 194.7 L400.6 194.7 L402.7 194.7 L404.8 194.7 L407.0 194.8 L409.1 194.8 L411.3 194.8 L413.4 194.8 L415.6 194.9 L417.8 194.9 L420.0 194.9"/>
<path class="c" stroke="#800000" d="M210.0 151.0 L211.3 152.0 L212.7 152.9 L214.0 153.9 L215.4 154.9 L216.7 156.0 L218.1 157.0 L219.6 158.2 L221.1 159.4 L222.7 160.5 L224.3 161.7 L226.0 162.8 L227.8 163.9 L229.4 164.7 L231.1 165.5 L232.9 166.3 L234.7 166.9 L236.5 167.5 L238.4 168.0 L240.3 168.5 L242.2 168.9 L244.0 169.2 L245.8 169.5 L247.5 169.7 L249.3 169.9 L251.2 170.0 L253.0 170.2 L254.8 170.4 L256.7 170.6 L258.6 170.8 L260.5 171.1 L262.5 171.4 L264.4 171.7 L266.3 172.0 L268.2 172.3 L270.0 172.7 L271.8 173.0 L273.4 173.3 L275.0 173.5 L276.9 173.8 L278.7 174.0 L280.5 174.2 L282.3 174.4 L284.3 174.7 L285.9 175.0 L287.6 175.3 L289.3 175.6 L291.2 176.0 L293.2 176.4 L295.2 176.8 L297.2 177.2 L299.3 177.7 L301.5 178.1 L303.6 178.5 L305.7 178.9 L307.8 179.3 L309.9 179.7 L311.9 180.0 L313.9 180.4 L315.9 180.7 L317.7 181.0 L319.5 181.3 L321.2 181.6 L322.8 181.8 L324.6 182.1 L326.3 182.3 L328.0 182.6 L329.7 182.8 L331.5 183.1 L333.4 183.3 L335.0 183.5 L336.7 183.7 L338.5 183.9 L340.3 184.1 L342.3 184.3 L344.2 184.6 L346.2 184.8 L348.3 185.0 L350.3 185.2 L352.3 185.5 L354.3 185.7 L356.4 185.9 L358.4 186.2 L360.4 186.4 L362.3 186.6 L364.2 186.8 L366.1 187.0 L368.0 187.2 L369.9 187.4 L371.7 187.6 L373.6 187.8 L375.4 188.0 L377.3 188.1 L379.1 188.3 L381.0 188.4 L382.9 188.5 L384.8 188.6 L386.7 188.8 L388.7 188.9 L390.7 189.0 L392.8 189.1 L394.6 189.2 L396.4 189.3 L398.3 189.4 L400.2 189.5 L402.1 189.5 L404.0 189.6 L406.0 189.7 L407.9 189.8 L409.9 189.9 L411.9 190.0 L413.9 190.1 L415.9 190.1 L418.0 190.2 L420.0 190.3"/>
<path class="c" stroke="#ff0080" d="M259.0 151.0 L260.7 152.1 L262.3 153.2 L263.9 154.3 L265.5 155.3 L267.0 156.3 L268.4 157.2 L270.0 158.1 L271.5 159.0 L273.0 159.7 L274.5 160.5 L276.2 161.3 L278.0 162.1 L279.8 162.9 L281.7 163.7 L283.5 164.4 L285.3 165.1 L287.1 165.7 L288.9 166.3 L290.7 166.9 L292.5 167.4 L294.3 167.9 L296.1 168.4 L297.9 168.9 L299.8 169.3 L301.6 169.8 L303.4 170.2 L305.2 170.6 L306.9 171.0 L308.7 171.3 L310.6 171.7 L312.4 172.0 L314.2 172.3 L316.1 172.6 L318.0 172.9 L320.0 173.2 L321.7 173.5 L323.5 173.7 L325.4 174.0 L327.3 174.3 L329.3 174.6 L331.3 174.8 L333.4 175.1 L335.2 175.3 L337.0 175.5 L338.8 175.7 L340.7 175.9 L342.7 176.1 L344.6 176.4 L346.7 176.6 L348.7 176.8 L350.8 177.0 L352.9 177.3 L355.0 177.5 L356.8 177.7 L358.6 177.9 L360.5 178.2 L362.4 178.4 L364.2 178.7 L366.1 178.9 L368.0 179.2 L370.0 179.4 L371.9 179.7 L373.9 179.9 L375.8 180.2 L377.8 180.4 L379.8 180.6 L381.9 180.9 L383.9 181.1 L385.7 181.3 L387.5 181.5 L389.4 181.7 L391.2 181.9 L393.1 182.0 L395.0 182.2 L396.9 182.4 L398.8 182.5 L400.7 182.7 L402.6 182.9 L404.5 183.0 L406.4 183.2 L408.4 183.3 L410.3 183.5 L412.2 183.6 L414.2 183.8 L416.1 183.9 L418.1 184.1 L420.0 184.2"/>
<path class="c" stroke="#008000" d="M283.0 151.0 L284.9 152.0 L286.7 153.0 L288.5 153.9 L290.3 154.9 L292.1 155.7 L293.8 156.5 L295.4 157.2 L297.1 157.9 L298.8 158.4 L300.3 158.9 L301.9 159.4 L303.4 159.9 L305.2 160.5 L306.9 161.1 L308.7 161.8 L310.6 162.4 L312.4 163.0 L314.2 163.5 L316.1 164.1 L318.0 164.7 L320.0 165.3 L321.7 165.8 L323.5 166.4 L325.4 166.9 L327.3 167.4 L329.2 168.0 L331.3 168.5 L333.4 169.1 L335.0 169.5 L336.7 169.9 L338.3 170.3 L340.1 170.7 L341.8 171.1 L343.6 171.5 L345.5 171.8 L347.3 172.2 L349.2 172.6 L351.1 172.9 L353.0 173.3 L355.0 173.6 L356.8 173.9 L358.6 174.2 L360.5 174.5 L362.3 174.8 L364.2 175.0 L366.1 175.3 L368.0 175.6 L369.9 175.8 L371.9 176.1 L373.8 176.3 L375.8 176.6 L377.8 176.8 L379.8 177.1 L381.9 177.3 L383.9 177.5 L385.7 177.7 L387.5 177.9 L389.4 178.1 L391.2 178.3 L393.1 178.4 L395.0 178.6 L396.9 178.8 L398.8 179.0 L400.7 179.1 L402.6 179.3 L404.5 179.5 L406.4 179.6 L408.4 179.8 L410.3 180.0 L412.2 180.1 L414.2 180.3 L416.1 180.5 L418.1 180.6 L420.0 180.8"/>
<path class="c" stroke="#0000a0" d="M312.0 151.0 L314.0 151.7 L315.9 152.4 L317.9 153.1 L319.7 153.8 L321.6 154.5 L323.3 155.1 L324.9 155.6 L326.4 156.2 L327.8 156.6 L329.0 157.0 L330.5 157.5 L331.9 157.8 L333.3 158.2 L335.0 158.7 L336.3 159.1 L337.9 159.6 L339.5 160.1 L341.3 160.6 L343.2 161.2 L345.2 161.8 L347.2 162.4 L349.2 163.0 L351.2 163.6 L353.1 164.2 L355.0 164.7 L357.1 165.3 L359.0 165.8 L360.8 166.2 L362.6 166.6 L364.4 167.0 L366.1 167.4 L367.8 167.7 L369.5 168.1 L371.2 168.5 L373.0 168.8 L374.8 169.2 L376.6 169.6 L378.5 170.0 L380.3 170.3 L382.1 170.7 L383.9 171.0 L385.7 171.3 L387.4 171.6 L389.2 171.9 L391.0 172.1 L392.8 172.4 L394.6 172.6 L396.5 172.9 L398.4 173.1 L400.2 173.3 L402.0 173.6 L403.9 173.8 L405.8 174.0 L407.8 174.3 L409.8 174.5 L411.8 174.8 L413.8 175.0 L415.9 175.3 L417.9 175.5 L420.0 175.8"/>
<path class="c" stroke="#ff8000" d="M346.0 150.0 L347.7 151.0 L349.4 152.1 L351.2 153.1 L352.8 154.0 L354.5 155.0 L356.1 155.8 L357.7 156.6 L359.3 157.3 L361.0 158.0 L362.6 158.6 L364.3 159.1 L366.0 159.5 L367.7 160.0 L369.5 160.4 L371.2 160.8 L372.9 161.2 L374.7 161.6 L376.5 162.1 L378.4 162.5 L380.2 162.9 L382.1 163.3 L383.9 163.7 L385.7 164.1 L387.5 164.4 L389.2 164.7 L391.0 165.0 L392.8 165.3 L394.6 165.6 L396.5 165.9 L398.4 166.2 L400.2 166.5 L402.0 166.7 L403.9 167.0 L405.8 167.2 L407.8 167.5 L409.7 167.7 L411.8 168.0 L413.8 168.2 L415.9 168.5 L417.9 168.7 L420.0 169.0"/>
<path class="c" stroke="#800080" d="M361.0 150.5 L362.6 151.6 L364.3 152.7 L366.0 153.7 L367.6 154.7 L369.3 155.6 L370.9 156.5 L372.6 157.3 L374.4 158.1 L376.3 158.7 L378.1 159.3 L380.0 159.8 L382.0 160.3 L383.9 160.8 L385.6 161.2 L387.3 161.6 L389.0 162.1 L390.8 162.5 L392.6 162.9 L394.5 163.4 L396.4 163.8 L398.4 164.2 L400.2 164.6 L402.1 164.9 L403.9 165.2 L405.9 165.6 L407.8 165.9 L409.8 166.2 L411.8 166.5 L413.9 166.9 L415.9 167.2 L417.9 167.5 L420.0 167.8"/>
<path class="c" stroke="#8000ff" d="M387.0 151.0 L388.4 152.0 L389.8 152.9 L391.2 153.9 L392.7 154.8 L394.3 155.7 L396.0 156.5 L397.8 157.3 L399.3 157.9 L400.9 158.5 L402.6 159.0 L404.4 159.5 L406.2 160.0 L408.1 160.5 L410.0 160.9 L412.0 161.3 L413.9 161.8 L415.9 162.2 L418.0 162.6 L420.0 163.0"/>
</g>
<!-- axes -->
<g stroke="#000" stroke-width="1.3" fill="none" id="axes">
<line x1="105.8" y1="156.8" x2="105.8" y2="465.9"/>
<line x1="102.6" y1="465.2" x2="415" y2="465.2"/>
</g>
<g stroke="#000" stroke-width="1.2" fill="none" id="ticks">
<!-- y major -->
<line x1="100" y1="196" x2="105.8" y2="196"/>
<line x1="100" y1="273" x2="105.8" y2="273"/>
<line x1="100" y1="349.9" x2="105.8" y2="349.9"/>
<line x1="100" y1="426.6" x2="105.8" y2="426.6"/>
<!-- y minor -->
<line x1="102.8" y1="157.4" x2="105.8" y2="157.4"/>
<line x1="102.8" y1="234.5" x2="105.8" y2="234.5"/>
<line x1="102.8" y1="311.5" x2="105.8" y2="311.5"/>
<line x1="102.8" y1="388.2" x2="105.8" y2="388.2"/>
<!-- x major -->
<line x1="151.4" y1="465.2" x2="151.4" y2="471"/>
<line x1="242.5" y1="465.2" x2="242.5" y2="471"/>
<line x1="333.5" y1="465.2" x2="333.5" y2="471"/>
<!-- x minor -->
<line x1="105.8" y1="465.2" x2="105.8" y2="468.4"/>
<line x1="196.9" y1="465.2" x2="196.9" y2="468.4"/>
<line x1="287.9" y1="465.2" x2="287.9" y2="468.4"/>
<line x1="379" y1="465.2" x2="379" y2="468.4"/>
</g>
<!-- labels -->
<g font-size="22.5" id="labels">
<text x="96.6" y="202.6" text-anchor="end">0</text>
<text x="96.6" y="279.4" text-anchor="end">-40</text>
<text x="96.6" y="356.2" text-anchor="end">-80</text>
<text x="96.6" y="433" text-anchor="end">-120</text>
<text x="151.4" y="491.5" text-anchor="middle">1</text>
<text x="242.4" y="491.5" text-anchor="middle">2</text>
<text x="333.5" y="491.5" text-anchor="middle">3</text>
</g>
<text x="294.6" y="515.3" font-size="22.3" font-style="italic">R<tspan font-style="normal">/</tspan>r</text>
<text x="322.8" y="523.3" font-size="13.3" letter-spacing="0.2">vdW</text>
<g transform="translate(43.7,355.4) rotate(-90)">
<text x="0" y="0" font-size="22.5" font-style="italic">U</text>
<text x="16.6" y="8.2" font-size="14.3" font-style="italic">v</text>
<text x="22" y="0" font-size="22.5">(<tspan font-style="italic">R</tspan>)/<tspan font-style="italic">E</tspan></text>
<text x="70.0" y="8.0" font-size="13.3" letter-spacing="0.2">vdW</text>
</g>
<!-- annotation -->
<text x="364" y="245" font-size="21" font-style="italic">i<tspan font-style="normal" dx="0.8">1</tspan></text>
<line x1="369.9" y1="229.3" x2="357" y2="202.3" stroke="#000" stroke-width="0.9"/>
<path d="M354.2 196.3 L359.8 202.9 L357.4 203.1 L355.7 204.9 Z" fill="#000"/>
</svg>
</body></html>
